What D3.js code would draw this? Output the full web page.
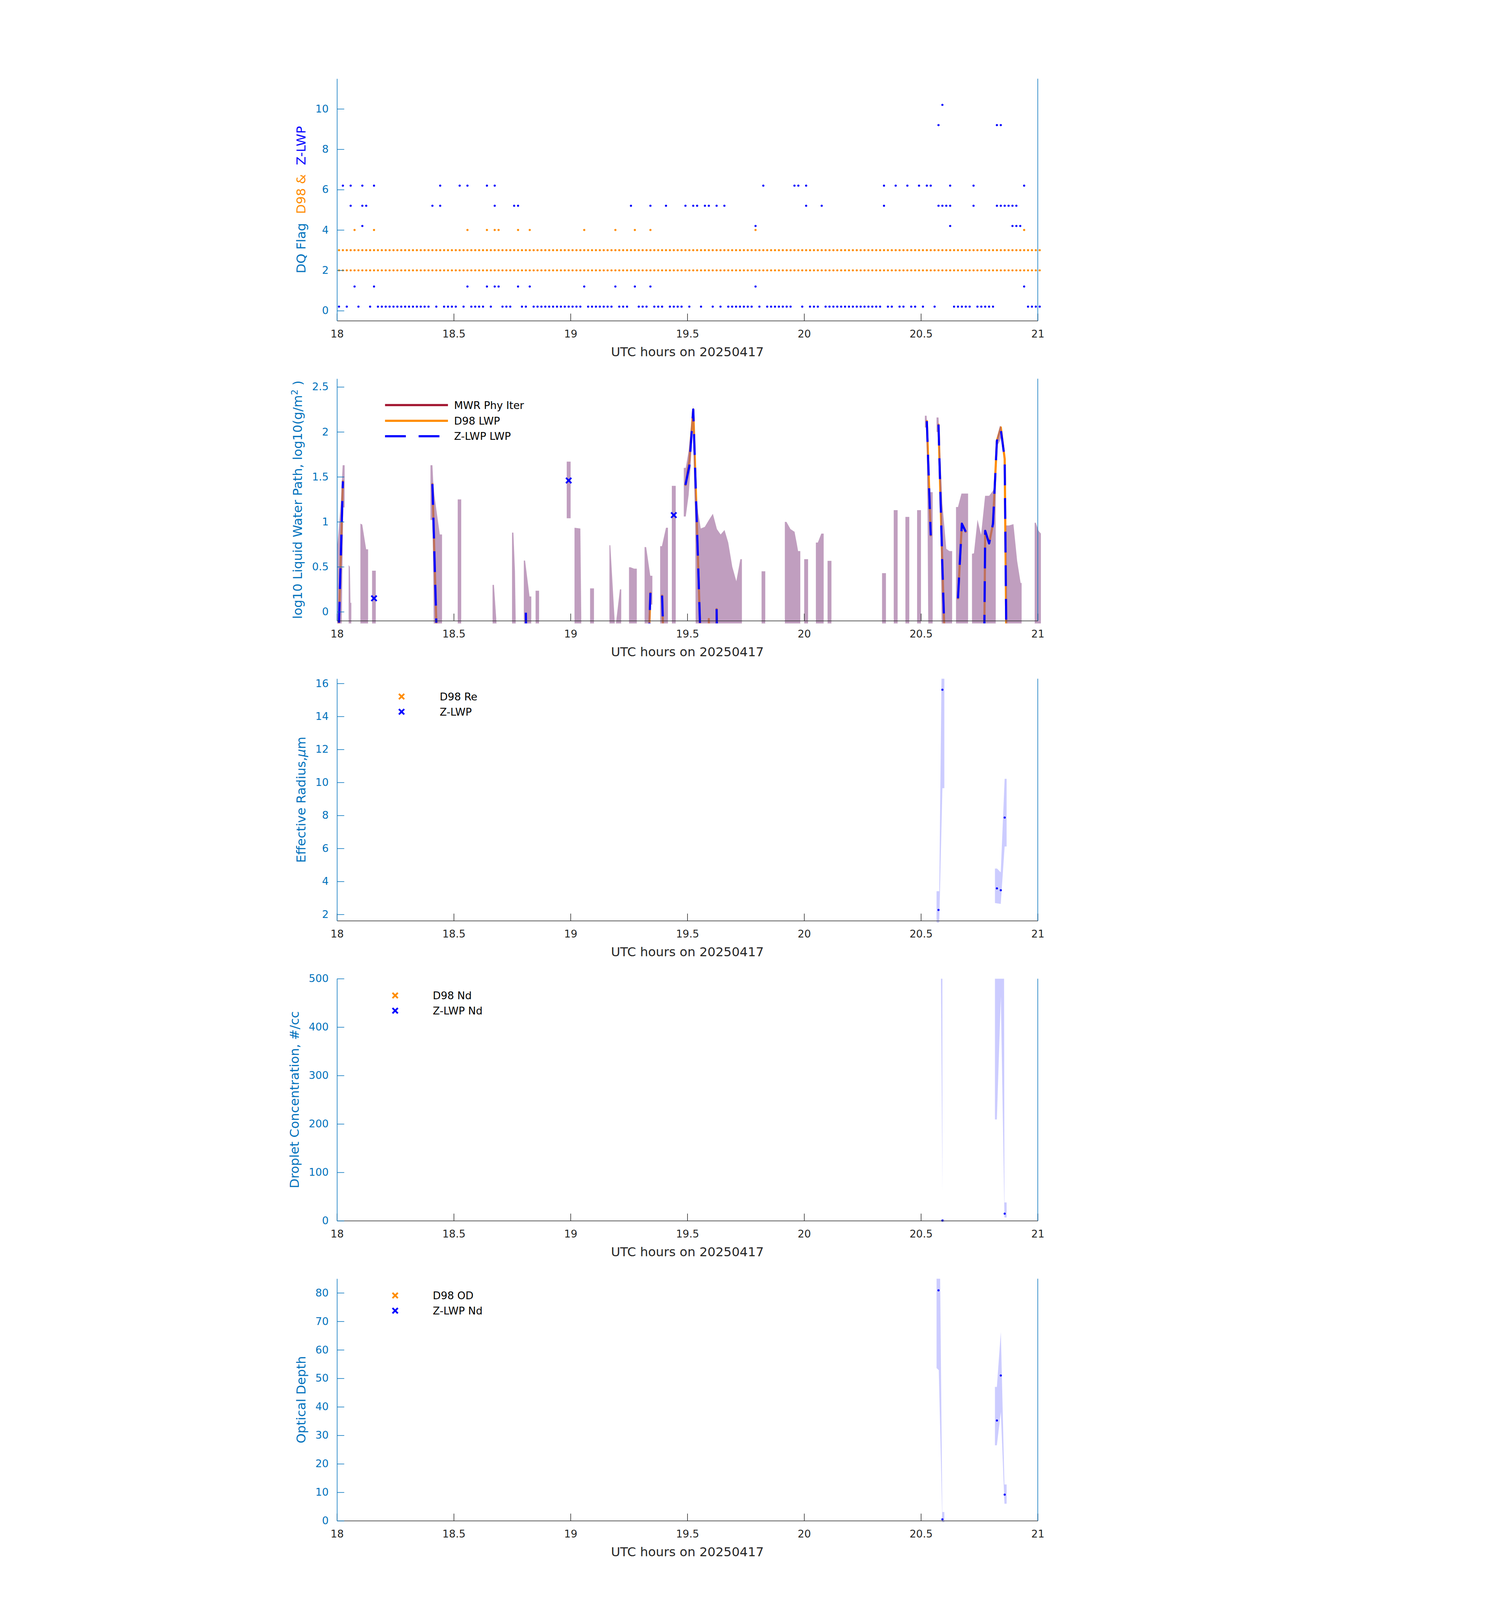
<!DOCTYPE html>
<html>
<head>
<meta charset="utf-8">
<title>DQ flags and cloud retrievals, 20250417</title>
<script src="https://d3js.org/d3.v7.min.js"></script>
<style>
  html, body { margin: 0; padding: 0; background: #fff; overflow: hidden; }
  /* the figure is laid out on a 3825 x 6000 canvas and scaled to fit the window */
  #fig { display: block; width: 100vw; height: 100vh; }
  svg text { font-family: "DejaVu Sans", sans-serif; }
</style>
</head>
<body>
<svg id="fig" viewBox="0 0 3825 6000" preserveAspectRatio="xMidYMin meet"></svg>
<script>
// ---------------- data ----------------
// samples are 1-minute values; sample i sits at 18 + (i + 0.5)/60 UTC hours
const nSamples = 181;
const hourTicks = [18, 18.5, 19, 19.5, 20, 20.5, 21];

// panel 1: data quality flags (sample indices for each flag value)
const d98AlwaysFlags = [2, 3];
const d98Flag4 = [4, 9, 33, 38, 40, 41, 46, 49, 63, 71, 76, 80, 107, 176];
const zFlag0 = [0, 2, 5, 8, 10, 11, 12, 13, 14, 15, 16, 17, 18, 19, 20, 21, 22, 23, 25, 27, 28, 29, 30,
  32, 34, 35, 36, 37, 39, 42, 43, 44, 47, 48, 50, 51, 52, 53, 54, 55, 56, 57, 58, 59, 60, 61, 62,
  64, 65, 66, 67, 68, 69, 70, 72, 73, 74, 77, 78, 79, 81, 82, 83, 85, 86, 87, 88, 90, 93, 96, 98,
  100, 101, 102, 103, 104, 105, 106, 108, 110, 111, 112, 113, 114, 115, 116, 119, 121, 122, 123,
  125, 126, 127, 128, 129, 130, 131, 132, 133, 134, 135, 136, 137, 138, 139, 141, 142, 144, 145,
  147, 148, 150, 153, 158, 159, 160, 161, 162, 164, 165, 166, 167, 168, 177, 178, 179, 180];
const zFlag1 = [4, 9, 33, 38, 40, 41, 46, 49, 63, 71, 76, 80, 107, 176];
const zFlag4 = [6, 107, 157, 173, 174, 175];
const zFlag5 = [3, 6, 7, 24, 26, 40, 45, 46, 75, 80, 84, 89, 91, 92, 94, 95, 97, 99, 120, 124, 140,
  154, 155, 156, 157, 163, 169, 170, 171, 172, 173, 174];
const zFlag6 = [1, 3, 6, 9, 26, 31, 33, 38, 40, 109, 117, 118, 120, 140, 143, 146, 149, 151, 152, 157, 163, 176];
const zFlag9 = [154, 169, 170];
const zFlag10 = [155];
const zFlagLevels = [[0, zFlag0], [1, zFlag1], [4, zFlag4], [5, zFlag5], [6, zFlag6], [9, zFlag9], [10, zFlag10]];

// panel 2: log10 LWP, runs of consecutive samples [startIndex, v0, v1, ...]
const d98LwpRuns = [
  [0, -0.12, 1.45], [24, 1.42, -0.12], [79, -1.1, 0.21], [83, 0.18, -1.3],
  [89, 1.41, 1.68, 2.25, 0.88, -0.5], [95, -0.08, -3], [97, 0.03, -3],
  [151, 2.12, 0.85], [154, 2.08, 0.5, -0.9], [159, 0.15, 0.98, 0.89],
  [165, -4, 0.9, 0.76, 0.98, 1.9, 2.05, 1.7, -3]
];
const zLwpRuns = [
  [0, -0.12, 1.45], [24, 1.42, -0.12], [48, -0.01, -3], [79, -1.1, 0.21], [83, 0.18, -1.3],
  [89, 1.41, 1.62, 2.25, 0.88, -0.5], [97, 0.03, -3],
  [151, 2.12, 0.85], [154, 2.08, 0.5, -0.9], [159, 0.15, 0.98, 0.89],
  [165, -4, 0.9, 0.76, 0.98, 1.9, 2.03, 1.7, -3]
];
const zLwpIsolated = [[9, 0.15], [59, 1.46], [86, 1.075]];
// MWR range: [minute after 18:00, lower, upper]
const mwrBand = [
  [[0, -1, 0.69], [0.95, -1, 1.2], [1.45, 0.7, 1.63], [1.6, 1.16, 1.63], [1.95, 1.16, 1.63]],
  [[2.98, -1, 0.52], [3.3, -1, 0.5], [3.45, -1, 0.1], [3.67, -1, 0.1]],
  [[6.0, -1, 0.98], [6.47, -1, 0.97], [7.48, -1, 0.695], [7.98, -1, 0.695]],
  [[9.0, -1, 0.457], [9.95, -1, 0.457]],
  [[24.0, 1.02, 1.63], [24.5, 1.02, 1.63], [24.7, 0.5, 1.45], [25.0, -1, 1.3], [25.5, -1, 1.14], [26.4, -1, 0.86], [26.97, -1, 0.86]],
  [[31.0, -1, 1.25], [31.9, -1, 1.25]],
  [[39.95, -1, 0.3], [40.3, -1, 0.3], [40.96, -1, -0.12]],
  [[44.95, -1, 0.88], [45.3, -1, 0.88], [45.7, -1, 0.45], [45.9, -1, -0.12]],
  [[47.98, -1, 0.57], [48.3, -1, 0.57], [49.45, -1, 0.17], [49.9, -1, 0.17]],
  [[51.0, -1, 0.234], [51.9, -1, 0.234]],
  [[59.0, 1.04, 1.67], [60.0, 1.04, 1.67]],
  [[61.0, -1, 0.935], [62.5, -1, 0.926], [62.75, -1, -0.12]],
  [[65.0, -1, 0.26], [66.0, -1, 0.26]],
  [[69.97, -1, 0.74], [70.2, -1, 0.74], [71.34, -1, -0.12], [71.5, -1, -0.2], [71.67, -1, -0.12], [72.67, -1, 0.25], [73.0, -1, 0.25]],
  [[75.0, -1, 0.495], [75.4, -1, 0.495], [76.3, -1, 0.48], [77.0, -1, 0.48]],
  [[79.0, -1, 0.72], [79.4, -1, 0.72], [80.4, -1, 0.42], [80.47, 0.08, 0.4], [81.0, 0.08, 0.4]],
  [[83.0, -1, 0.73], [83.45, -1, 0.73], [84.5, -1, 0.935], [85.0, -1, 0.935]],
  [[86.0, -1, 1.4], [87.0, -1, 1.4]],
  [[89.07, 1.06, 1.6], [89.57, 1.06, 1.6], [90.32, 1.3, 1.79], [90.8, 1.6, 2.0], [91.48, 2.2, 2.29], [91.7, 1.5, 2.1],
   [92.0, 1.0, 1.6], [92.2, -1, 1.3], [92.81, -1, 1.09], [93.43, -1, 0.926], [94.47, -1, 0.944], [95.51, -1, 1.02],
   [96.54, -1, 1.09], [97.58, -1, 0.92], [98.54, -1, 0.86], [99.53, -1, 0.91], [100.49, -1, 0.77], [101.53, -1, 0.5],
   [102.57, -1, 0.34], [103.6, -1, 0.585], [104.0, -1, 0.585]],
  [[109.05, -1, 0.45], [110.0, -1, 0.45]],
  [[115.03, -1, 1.0], [115.44, -1, 1.0], [116.48, -1, 0.92], [117.52, -1, 0.89], [118.13, -1, 0.75], [118.43, -1, 0.675], [119.0, -1, 0.675]],
  [[120.0, -1, 0.585], [121.0, -1, 0.585]],
  [[123.0, -1, 0.77], [123.5, -1, 0.77], [124.4, -1, 0.87], [125.0, -1, 0.87]],
  [[126.0, -1, 0.567], [127.0, -1, 0.567]],
  [[140.0, -1, 0.43], [141.0, -1, 0.43]],
  [[143.0, -1, 1.13], [144.0, -1, 1.13]],
  [[146.0, -1, 1.055], [147.0, -1, 1.055]],
  [[149.0, -1, 1.13], [150.0, -1, 1.13]],
  [[151.0, 2.05, 2.18], [151.45, 2.05, 2.18], [151.7, 1.0, 1.9], [152.0, -1, 1.4], [152.37, -1, 1.33], [153.0, -1, 1.33]],
  [[154.0, 2.0, 2.16], [154.5, 2.0, 2.16], [155.0, 1.2, 1.7], [155.5, -1, 1.2], [156.5, -1, 0.7], [157.3, -1, 0.675], [158.0, -1, 0.675]],
  [[159.0, -1, 1.165], [159.5, -1, 1.165], [160.4, -1, 1.315], [162.1, -1, 1.315]],
  [[163.1, -1, 0.645], [163.6, -1, 0.65], [164.52, -1, 1.025], [165.44, -1, 0.855], [166.47, -1, 1.29], [167.51, -1, 1.29],
   [168.55, -1, 1.35], [169.0, -1, 1.4], [169.2, -1, 1.45]],
  [[169.6, 1.85, 1.95], [170.3, 1.9, 2.07], [170.6, 1.95, 2.05]],
  [[171.85, -1, 0.96], [172.6, -1, 0.96], [173.75, -1, 0.975], [174.7, -1, 0.566], [175.6, -1, 0.32], [175.85, -1, 0.32]],
  [[179.2, -1, 0.99], [179.5, -1, 0.99], [180.2, -1, 0.9], [180.8, -1, 0.87]]
];

// panels 3-5: Z-LWP retrievals [sample index, value] and uncertainty outlines [minute, value]
const zRe = [[154, 2.27], [155, 15.62], [169, 3.58], [170, 3.47], [171, 7.87]];
const zNd = [[155, 0.5], [171, 14.8]];
const zOd = [[154, 80.9], [155, 0.5], [169, 35.2], [170, 51.0], [171, 9.2]];
const reBand = [
  [[154.0, 1.5], [154.0, 3.41], [154.69, 3.41], [155.3, 17], [156.0, 17], [156.0, 9.65], [155.5, 9.65], [154.69, 1.5]],
  [[169.0, 2.69], [169.0, 4.78], [169.54, 4.78], [170.49, 4.55], [171.49, 10.22], [172.0, 10.22], [172.0, 6.12], [171.49, 6.12], [170.49, 2.64]]
];
const ndBand = [
  [[155.11, 520], [155.5, 520], [155.5, 58.7]],
  [[155.3, -2], [156.0, -2], [156.0, 3.6], [155.3, 3.6]],
  [[169.0, 520], [171.34, 520], [171.44, 37.9], [172.0, 37.9], [172.0, 6.9], [171.44, 6.9], [170.51, 463.1], [169.49, 209.4], [169.0, 209.4]]
];
const odBand = [
  [[154.0, 90], [154.89, 90], [155.48, 3.1], [156.0, 3.1], [156.0, -0.5], [155.42, -0.5], [155.42, 3.1], [154.57, 52.9], [154.0, 53.6]],
  [[169.0, 47.0], [169.49, 47.0], [170.51, 66.3], [171.44, 12.75], [172.0, 12.75], [172.0, 6.0], [171.44, 6.0], [170.51, 38.2], [169.49, 26.5], [169.0, 26.5]]
];

// ---------------- figure ----------------
const AXC = "#0072BD", TXT = "#262626", ORANGE = "#FF8C00", BLUE = "#0000FF";
const LBL = 47.5, TICK = 39;
const svg = d3.select("#fig");
svg.append("rect").attr("width", 3825).attr("height", 6000).attr("fill", "#fff");

const X0 = 375, X1 = 3003, TOP0 = 295, STEP = 1125, PH = 908;
const x = d3.scaleLinear().domain([18, 21]).range([X0, X1]);
const hr = i => 18 + (i + 0.5) / 60;
const hm = m => 18 + m / 60;
const fmt = d3.format("~g");

function makePanel(k, yDomain, yTicks) {
  const y0 = TOP0 + k * STEP, y1 = y0 + PH;
  const y = d3.scaleLinear().domain(yDomain).range([y1, y0]);
  const id = "clip" + k;
  svg.append("clipPath").attr("id", id).append("rect")
    .attr("x", X0).attr("y", y0).attr("width", X1 - X0 + 12).attr("height", PH + 10);
  const g = svg.append("g");
  const data = g.append("g").attr("clip-path", `url(#${id})`);
  return { k, y, y0, y1, g, data, yTicks };
}

function drawAxes(p, labelFn) {
  const bx = p.g.append("g").attr("transform", `translate(0,${p.y1})`)
    .call(d3.axisBottom(x).tickValues(hourTicks).tickFormat(fmt).tickSizeInner(-27).tickSizeOuter(0).tickPadding(35));
  bx.attr("font-size", TICK).attr("font-family", "DejaVu Sans");
  bx.select(".domain").attr("stroke", TXT).attr("stroke-width", 2.2);
  bx.selectAll(".tick line").attr("stroke", TXT).attr("stroke-width", 2.2);
  bx.selectAll(".tick text").attr("fill", TXT);

  const ly = p.g.append("g").attr("transform", `translate(${X0},0)`)
    .call(d3.axisLeft(p.y).tickValues(p.yTicks).tickFormat(fmt).tickSizeInner(-27).tickSizeOuter(0).tickPadding(31.5));
  ly.attr("font-size", TICK).attr("font-family", "DejaVu Sans");
  ly.select(".domain").attr("stroke", AXC).attr("stroke-width", 2.2);
  ly.selectAll(".tick line").attr("stroke", AXC).attr("stroke-width", 2.2);
  ly.selectAll(".tick text").attr("fill", AXC);

  p.g.append("line").attr("x1", X1).attr("x2", X1).attr("y1", p.y0).attr("y2", p.y1)
    .attr("stroke", AXC).attr("stroke-width", 2.2);

  p.g.append("text").attr("x", (X0 + X1) / 2).attr("y", p.y1 + 133)
    .attr("text-anchor", "middle").attr("font-size", LBL).attr("fill", TXT)
    .text("UTC hours on 20250417");

  const minX = d3.min(ly.selectAll(".tick text").nodes(), n => n.getBBox().x);
  const lbl = p.g.append("text")
    .attr("transform", `translate(${X0 + minX - 38},${(p.y0 + p.y1) / 2}) rotate(-90)`)
    .attr("text-anchor", "middle").attr("font-size", LBL).attr("fill", AXC);
  labelFn(lbl);
}

function xMark(sel, size) {
  return sel.append("path")
    .attr("d", `M${-size},${-size}L${size},${size}M${-size},${size}L${size},${-size}`)
    .attr("fill", "none").attr("stroke-width", 6.5);
}

function legendMarkers(p, items, mx, tx, rows) {
  items.forEach((it, j) => {
    xMark(p.g.append("g").attr("transform", `translate(${mx},${rows[j]})`), 10).attr("stroke", it.color);
    p.g.append("text").attr("x", tx).attr("y", rows[j] + 14).attr("font-size", TICK)
      .attr("fill", "#000").text(it.label);
  });
}

function runsToSeries(runs) {
  const s = new Array(nSamples).fill(NaN);
  runs.forEach(r => r.slice(1).forEach((v, j) => { s[r[0] + j] = v; }));
  return s;
}

// ----- panel 1: DQ flags -----
const p1 = makePanel(0, [-0.5, 11.5], [0, 2, 4, 6, 8, 10]);
const d98Pts = d3.cross(d3.range(nSamples), d98AlwaysFlags).concat(d98Flag4.map(i => [i, 4]));
p1.g.append("g").selectAll("circle").data(d98Pts).join("circle")
  .attr("cx", d => x(hr(d[0]))).attr("cy", d => p1.y(d[1])).attr("r", 4).attr("fill", ORANGE);
const zPts = zFlagLevels.flatMap(([lev, idx]) => idx.map(i => [i, lev + 0.2]));
p1.g.append("g").selectAll("circle").data(zPts).join("circle")
  .attr("cx", d => x(hr(d[0]))).attr("cy", d => p1.y(d[1])).attr("r", 4).attr("fill", BLUE);
drawAxes(p1, t => {
  t.append("tspan").attr("fill", AXC).text("DQ Flag");
  t.append("tspan").attr("fill", ORANGE).attr("dx", 34).text("D98 &");
  t.append("tspan").attr("fill", BLUE).attr("dx", 34).text("Z-LWP");
});

// ----- panel 2: log10 LWP -----
const p2 = makePanel(1, [-0.1, 2.592], [0, 0.5, 1, 1.5, 2, 2.5]);
const lwpLine = d3.line().defined(d => !isNaN(d)).x((d, i) => x(hr(i))).y(d => p2.y(d));
p2.data.append("path").attr("d", lwpLine(runsToSeries(d98LwpRuns)))
  .attr("fill", "none").attr("stroke", ORANGE).attr("stroke-width", 8)
  .attr("stroke-linecap", "round").attr("stroke-linejoin", "round");
const band = d3.area().x(d => x(hm(d[0]))).y0(d => p2.y(d[1])).y1(d => p2.y(d[2]));
p2.data.append("g").selectAll("path").data(mwrBand).join("path")
  .attr("d", band).attr("fill", "rgb(150,93,148)").attr("fill-opacity", 0.6);
p2.data.append("path").attr("d", lwpLine(runsToSeries(zLwpRuns)))
  .attr("fill", "none").attr("stroke", BLUE).attr("stroke-width", 8)
  .attr("stroke-dasharray", "78 48").attr("stroke-linejoin", "round");
p2.data.append("g").selectAll("g").data(zLwpIsolated).join("g")
  .attr("transform", d => `translate(${x(hr(d[0]))},${p2.y(d[1])})`)
  .each(function () { xMark(d3.select(this), 10).attr("stroke", BLUE); });
// legend
const lg2 = [
  { label: "MWR Phy Iter", color: "#A2142F", dash: null },
  { label: "D98 LWP", color: ORANGE, dash: null },
  { label: "Z-LWP LWP", color: BLUE, dash: "78 48" }
];
const rows2 = [1519, 1578, 1636];
lg2.forEach((it, j) => {
  p2.g.append("line").attr("x1", 555).attr("x2", 791).attr("y1", rows2[j]).attr("y2", rows2[j])
    .attr("stroke", it.color).attr("stroke-width", 8).attr("stroke-dasharray", it.dash);
  p2.g.append("text").attr("x", 814).attr("y", rows2[j] + 14).attr("font-size", TICK)
    .attr("fill", "#000").text(it.label);
});
drawAxes(p2, t => {
  t.append("tspan").text("log10 Liquid Water Path, log10(g/m");
  t.append("tspan").attr("dy", -17).attr("font-size", 33).text("2");
  t.append("tspan").attr("dy", 17).text(" )");
});

// ----- panels 3-5: retrievals -----
const poly = p => d3.line().x(d => x(hm(d[0]))).y(d => p.y(d[1]));
function retrievalPanel(k, dom, ticks, bands, pts, legend, mx, tx, rows, labelFn) {
  const p = makePanel(k, dom, ticks);
  p.data.append("g").selectAll("path").data(bands).join("path")
    .attr("d", d => poly(p)(d) + "Z").attr("fill", BLUE).attr("fill-opacity", 0.2);
  p.data.append("g").selectAll("circle").data(pts).join("circle")
    .attr("cx", d => x(hr(d[0]))).attr("cy", d => p.y(d[1])).attr("r", 4).attr("fill", BLUE);
  legendMarkers(p, legend, mx, tx, rows);
  drawAxes(p, labelFn);
}
retrievalPanel(2, [1.615, 16.29], [2, 4, 6, 8, 10, 12, 14, 16], reBand, zRe,
  [{ label: "D98 Re", color: ORANGE }, { label: "Z-LWP", color: BLUE }], 617, 760, [2612, 2669],
  t => {
    t.append("tspan").text("Effective Radius,");
    t.append("tspan").attr("font-style", "italic").text("\u03bc");
    t.append("tspan").text("m");
  });
retrievalPanel(3, [0, 500], [0, 100, 200, 300, 400, 500], ndBand, zNd,
  [{ label: "D98 Nd", color: ORANGE }, { label: "Z-LWP Nd", color: BLUE }], 593, 734, [3733, 3790],
  t => t.text("Droplet Concentration, #/cc"));
retrievalPanel(4, [0, 85], [0, 10, 20, 30, 40, 50, 60, 70, 80], odBand, zOd,
  [{ label: "D98 OD", color: ORANGE }, { label: "Z-LWP Nd", color: BLUE }], 593, 734, [4858, 4915],
  t => t.text("Optical Depth"));
</script>
</body>
</html>
